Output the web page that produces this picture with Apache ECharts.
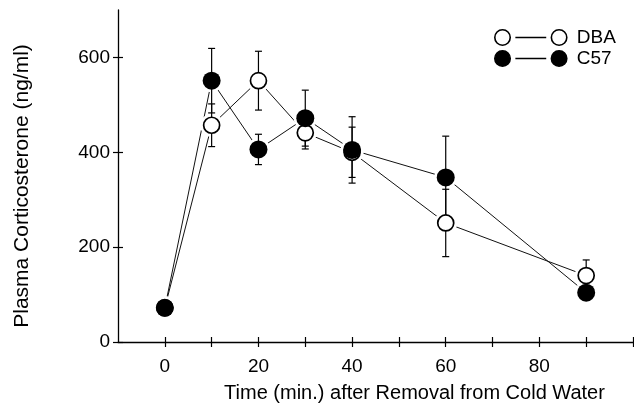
<!DOCTYPE html>
<html>
<head>
<meta charset="utf-8">
<script src="https://cdn.jsdelivr.net/npm/echarts@6/dist/echarts.min.js"></script>
<style>html,body{margin:0;padding:0;background:#fff}#c{width:634px;height:411px}</style>
</head>
<body>
<div id="c"></div>
<script>
// ---- data ----
const times = [0, 10, 20, 30, 40, 60, 90];
const dbaMean = [72, 457, 551, 441, 400, 251, 140];
const dbaErr  = [0, 45, 62, 34, 53, 71, 33];
const c57Mean = [72, 551, 406, 472, 405, 347, 104];
const c57Err  = [0, 68, 32, 59, 70, 87, 15];
const xTickValues = [0, 10, 20, 30, 40, 50, 60, 70, 80, 90, 100];
const xLabelValues = [0, 20, 40, 60, 80];
const yTickValues = [0, 200, 400, 600];
const seriesNames = ['DBA', 'C57'];
const xTitle = 'Time (min.) after Removal from Cold Water';
const yTitle = 'Plasma Corticosterone (ng/ml)';

const FONT = '"Liberation Sans", Arial, sans-serif';
const pts = (m) => times.map((t, i) => [t, m[i]]);
const errPts = (m, e) => times.map((t, i) => [t, m[i], e[i]]);

const legendIcon = 'path://M1,8.5 A7.5,7.5 0 1,1 16,8.5 A7.5,7.5 0 1,1 1,8.5 Z M56,8.5 A7.5,7.5 0 1,1 71,8.5 A7.5,7.5 0 1,1 56,8.5 Z M21,8.5 L51,8.5';

function errRender(params, api) {
  const x = api.value(0), y = api.value(1), e = api.value(2);
  if (!e) return null;
  const top = api.coord([x, y + e]);
  const bot = api.coord([x, y - e]);
  const w = 3.5;
  const st = { stroke: '#000', lineWidth: 1.2 };
  return {
    type: 'group',
    children: [
      { type: 'line', shape: { x1: top[0], y1: top[1], x2: bot[0], y2: bot[1] }, style: st },
      { type: 'line', shape: { x1: top[0] - w, y1: top[1], x2: top[0] + w, y2: top[1] }, style: st },
      { type: 'line', shape: { x1: bot[0] - w, y1: bot[1], x2: bot[0] + w, y2: bot[1] }, style: st }
    ]
  };
}

const axisLineStyle = { color: '#000', width: 1.3 };
const chart = echarts.init(document.getElementById('c'), null, { renderer: 'canvas' });
chart.setOption({
  animation: false,
  backgroundColor: '#fff',
  grid: { left: 118, right: 1, top: 10, bottom: 69, containLabel: false },
  legend: {
    orient: 'vertical',
    left: 494, top: 28,
    padding: 0,
    itemGap: 2,
    itemWidth: 72, itemHeight: 17,
    selectedMode: false,
    textStyle: { fontFamily: FONT, fontSize: 19, color: '#000', padding: [0, 0, 0, 5] },
    data: [
      { name: seriesNames[0], icon: legendIcon, itemStyle: { color: '#fff', borderColor: '#000', borderWidth: 1.6 } },
      { name: seriesNames[1], icon: legendIcon, itemStyle: { color: '#000', borderColor: '#000', borderWidth: 1.6 } }
    ]
  },
  xAxis: [
    {
      type: 'value', min: -10, max: 100,
      splitLine: { show: false },
      axisLine: { onZero: false, lineStyle: axisLineStyle },
      axisTick: { customValues: xTickValues, length: 5, lineStyle: { color: '#000', width: 1.2 } },
      axisLabel: { customValues: xLabelValues, fontFamily: FONT, fontSize: 19, color: '#000', margin: 15 },
      name: xTitle, nameLocation: 'middle', nameGap: 41,
      nameTextStyle: { fontFamily: FONT, fontSize: 20, color: '#000', padding: [0, 0, 0, 78] }
    },
    {
      type: 'value', min: -10, max: 100, position: 'bottom',
      splitLine: { show: false },
      axisLine: { show: false, onZero: false },
      axisTick: { customValues: xTickValues, inside: true, length: 5, lineStyle: { color: '#000', width: 1.2 } },
      axisLabel: { show: false }
    }
  ],
  yAxis: [
    {
      type: 'value', min: 0, max: 700,
      splitLine: { show: false },
      axisLine: { onZero: false, lineStyle: axisLineStyle },
      axisTick: { customValues: yTickValues, length: 5, lineStyle: { color: '#000', width: 1.2 } },
      axisLabel: { customValues: yTickValues, fontFamily: FONT, fontSize: 19, color: '#000', margin: 8 },
      name: yTitle, nameLocation: 'middle', nameGap: 85, nameRotate: 90,
      nameTextStyle: { fontFamily: FONT, fontSize: 21, color: '#000', padding: [0, 20, 0, 0] }
    },
    {
      type: 'value', min: 0, max: 700, position: 'left',
      splitLine: { show: false },
      axisLine: { show: false, onZero: false },
      axisTick: { customValues: yTickValues, inside: true, length: 5, lineStyle: { color: '#000', width: 1.2 } },
      axisLabel: { show: false }
    }
  ],
  series: [
    { name: 'DBA-line', type: 'line', data: pts(dbaMean), symbol: 'none', z: 1,
      lineStyle: { color: '#111', width: 1 } },
    { name: 'C57-line', type: 'line', data: pts(c57Mean), symbol: 'none', z: 1,
      lineStyle: { color: '#111', width: 1 } },
    { name: 'DBA-halo', type: 'scatter', data: pts(dbaMean), symbol: 'circle', symbolSize: 23, z: 2,
      itemStyle: { color: '#fff', opacity: 1 } },
    { name: 'C57-halo', type: 'scatter', data: pts(c57Mean), symbol: 'circle', symbolSize: 23, z: 2,
      itemStyle: { color: '#fff', opacity: 1 } },
    { name: 'DBA-err', type: 'custom', data: errPts(dbaMean, dbaErr), renderItem: errRender, z: 3 },
    { name: 'C57-err', type: 'custom', data: errPts(c57Mean, c57Err), renderItem: errRender, z: 3 },
    { name: 'DBA', type: 'scatter', data: pts(dbaMean), symbol: 'circle', symbolSize: 16, z: 4,
      itemStyle: { color: '#fff', borderColor: '#000', borderWidth: 1.7, opacity: 1 } },
    { name: 'C57', type: 'scatter', data: pts(c57Mean), symbol: 'circle', symbolSize: 18, z: 5,
      itemStyle: { color: '#000', borderColor: '#000', borderWidth: 0, opacity: 1 } }
  ]
});
</script>
</body>
</html>
